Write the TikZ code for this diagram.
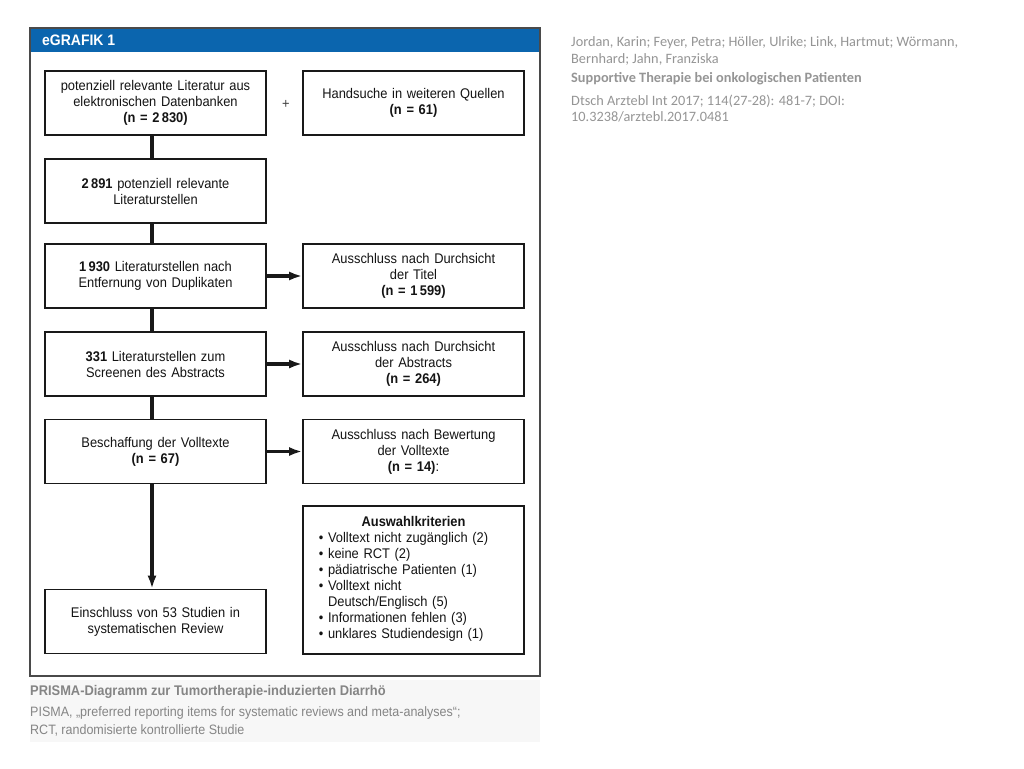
\documentclass[tikz,border=0pt]{standalone}
\usepackage{fontspec}
\setmainfont{Liberation Sans}[FakeStretch=0.92]
\newfontfamily\citefont{Carlito}
\usetikzlibrary{arrows.meta, positioning}
\definecolor{headerblue}{HTML}{0B65AE}
\definecolor{framegray}{HTML}{4A4A4A}
\definecolor{captiongray}{HTML}{858585}
\definecolor{citegray}{HTML}{959595}

\begin{document}
\begin{tikzpicture}[x=1pt,y=-1pt,
    stagebox/.style={draw=black!90, line width=1.6pt, fill=white, text=black!92,
      minimum width=221pt, minimum height=64pt, text width=214pt, align=center,
      inner sep=0pt, font=\fontsize{14}{16}\selectfont},
    trunk/.style={line width=3.4pt, black!90},
    flow/.style={line width=3.2pt, black!90, -{Latex[length=13pt,width=9pt]}}]
  \useasboundingbox (0,0) rectangle (1024,768);
  \fill[white] (0,0) rectangle (1024,768);
  % caption panel, frame and header
  \fill[black!3] (30,680) rectangle (540,742);
  \fill[headerblue] (30,28) rectangle (540,52);
  \draw[framegray, line width=1.6pt] (30,28) rectangle (540,676);
  \node[anchor=west, inner sep=0pt, text=white, font=\bfseries\fontsize{15.2}{16}\selectfont]
    (header) at (42,40.5) {eGRAFIK 1};

  % left column
  \node[stagebox] (db) at (155.5,103)
    {potenziell relevante Literatur aus\\ elektronischen Datenbanken\\ \textbf{(n = 2\,830)}};
  \node[stagebox] (total) at (155.5,191)
    {\textbf{2\,891} potenziell relevante\\ Literaturstellen};
  \node[stagebox] (dedup) at (155.5,276)
    {\textbf{1\,930} Literaturstellen nach\\ Entfernung von Duplikaten};
  \node[stagebox] (screen) at (155.5,364)
    {\textbf{331} Literaturstellen zum\\ Screenen des Abstracts};
  \node[stagebox] (fulltext) at (155.5,451.5)
    {Beschaffung der Volltexte\\ \textbf{(n = 67)}};
  \node[stagebox] (included) at (155.5,621.5)
    {Einschluss von 53 Studien in\\ systematischen Review};

  % right column
  \node[font=\fontsize{14}{16}\selectfont, text=black!75] (plus) at (286,104) {+};
  \node[stagebox] (hand) at (413.5,103)
    {Handsuche in weiteren Quellen\\ \textbf{(n = 61)}};
  \node[stagebox] (extitle) at (413.5,276)
    {Ausschluss nach Durchsicht\\ der Titel\\ \textbf{(n = 1\,599)}};
  \node[stagebox] (exabs) at (413.5,364)
    {Ausschluss nach Durchsicht\\ der Abstracts\\ \textbf{(n = 264)}};
  \node[stagebox] (exfull) at (413.5,451.5)
    {Ausschluss nach Bewertung\\ der Volltexte\\ \textbf{(n = 14)}:};
  \node[stagebox, minimum height=148pt] (criteria) at (413.5,580)
    {\textbf{Auswahlkriterien}\\
     \begin{tabular}[t]{@{}l@{}}
       \textbullet\ Volltext nicht zugänglich (2)\\
       \textbullet\ keine RCT (2)\\
       \textbullet\ pädiatrische Patienten (1)\\
       \textbullet\ Volltext nicht\\
       \phantom{\textbullet\ }Deutsch/Englisch (5)\\
       \textbullet\ Informationen fehlen (3)\\
       \textbullet\ unklares Studiendesign (1)
     \end{tabular}\hspace*{20pt}};

  % connectors
  \foreach \a/\b in {db/total,total/dedup,dedup/screen,screen/fulltext}
    \draw[trunk] ([xshift=-3.5pt]\a.south) -- ([xshift=-3.5pt]\b.north);
  \draw[flow] ([xshift=-3.5pt]fulltext.south) -- ([xshift=-3.5pt]included.north);
  \foreach \a/\b in {dedup/extitle,screen/exabs,fulltext/exfull}
    \draw[flow] (\a) -- (\b);

  % caption
  \node[anchor=west, inner sep=0pt, text=captiongray, font=\bfseries\fontsize{14}{16}\selectfont]
    (caption) at (30,692) {PRISMA-Diagramm zur Tumortherapie-induzierten Diarrhö};
  \node[anchor=west, inner sep=0pt, align=left, text=captiongray, font=\fontsize{13.6}{18}\selectfont]
    (abbrev) at (30,721)
    {PISMA, „preferred reporting items for systematic reviews and meta-analyses“;\\
     RCT, randomisierte kontrollierte Studie};

  % reference
  \node[anchor=west, inner sep=0pt, align=left, text=citegray, font=\citefont\fontsize{14.3}{17}\selectfont]
    (authors) at (571,50.5)
    {Jordan, Karin; Feyer, Petra; Höller, Ulrike; Link, Hartmut; Wörmann,\\ Bernhard; Jahn, Franziska};
  \node[anchor=west, inner sep=0pt, text=citegray, font=\citefont\bfseries\fontsize{14.3}{17}\selectfont]
    (reftitle) at (571,79) {Supportive Therapie bei onkologischen Patienten};
  \node[anchor=west, inner sep=0pt, align=left, text=citegray, font=\citefont\fontsize{14.3}{16}\selectfont]
    (citation) at (571,109)
    {Dtsch Arztebl Int 2017; 114(27-28): 481-7; DOI:\\ 10.3238/arztebl.2017.0481};
\end{tikzpicture}
\end{document}
